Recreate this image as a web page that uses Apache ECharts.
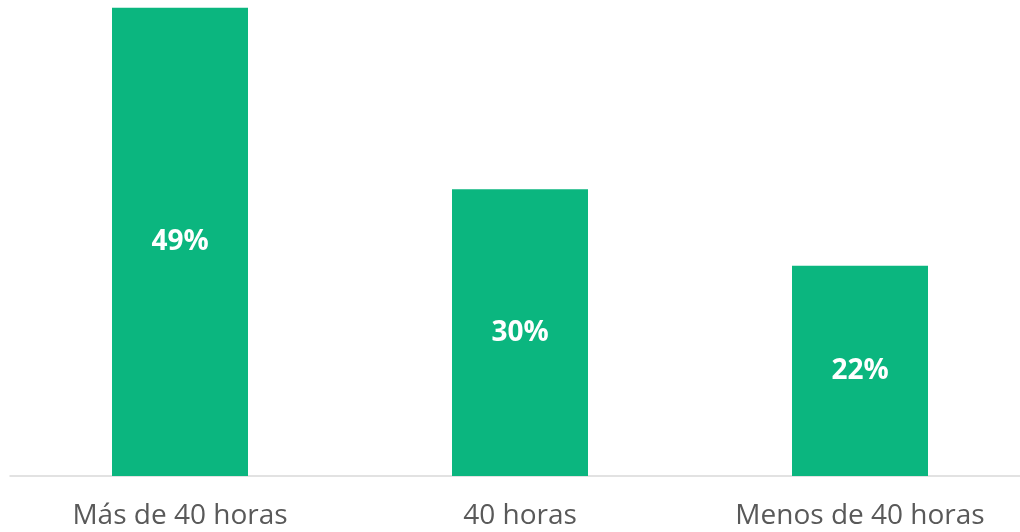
<!DOCTYPE html>
<html>
<head>
<meta charset="utf-8">
<script src="https://cdn.jsdelivr.net/npm/echarts@6/dist/echarts.min.js"></script>
<style>
  html, body { margin: 0; padding: 0; background: #fff; }
  #chart { width: 1020px; height: 532px; }
</style>
</head>
<body>
<div id="chart"></div>
<script>
const categories = ['Más de 40 horas', '40 horas', 'Menos de 40 horas']
const values = [49, 30, 22]

const chart = echarts.init(document.getElementById('chart'))
chart.setOption({
  animation: false,
  grid: { left: 10, right: -10, top: 0, bottom: 56, outerBoundsMode: 'none', containLabel: false },
  xAxis: {
    type: 'category',
    data: categories,
    axisTick: { show: false },
    axisLine: { lineStyle: { color: '#d9d9d9', width: 1.5 } },
    axisLabel: { color: '#595959', fontSize: 28, fontFamily: '"Open Sans", sans-serif', margin: 26 }
  },
  yAxis: {
    type: 'value',
    min: 0,
    max: 49.8,
    show: false,
    splitLine: { show: false }
  },
  series: [{
    type: 'bar',
    data: values,
    barWidth: '40%',
    itemStyle: { color: '#0bb67f' },
    label: {
      show: true,
      position: 'inside',
      formatter: '{c}%',
      color: '#fff',
      fontWeight: 'bold',
      fontSize: 28,
      fontFamily: '"Open Sans", sans-serif'
    }
  }]
})
</script>
</body>
</html>
